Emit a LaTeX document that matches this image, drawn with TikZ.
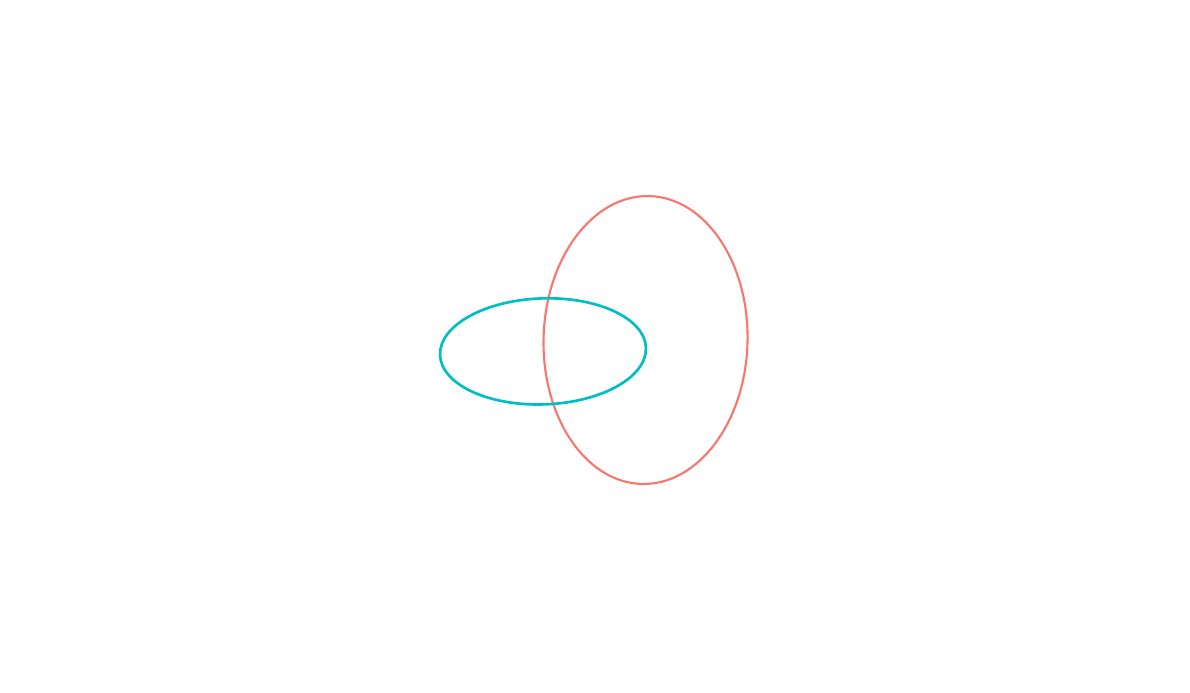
\documentclass[tikz,border=0pt]{standalone}
\usepackage{xcolor}
\usepackage{tikz}

\definecolor{redline}{HTML}{F8766D}
\definecolor{cyanline}{HTML}{00BFC4}

\begin{document}
\begin{tikzpicture}[
  redring/.style={draw=redline, line width=1.5pt},
  cyanring/.style={draw=cyanline, line width=1.9pt}
]
% ── canvas ─────────────────────────────────────
\useasboundingbox (0,0) rectangle (29.75,17.325);
\coordinate (rc) at (16.14,8.825);
\coordinate (cc) at (13.575,8.54);
% ── rings ──────────────────────────────────────
\draw[redring, rotate around={-1.5:(rc)}] (rc) ellipse [x radius=2.55cm, y radius=3.6cm];
\draw[cyanring, rotate around={2:(cc)}] (cc) ellipse [x radius=2.575cm, y radius=1.325cm];
\end{tikzpicture}
\end{document}
